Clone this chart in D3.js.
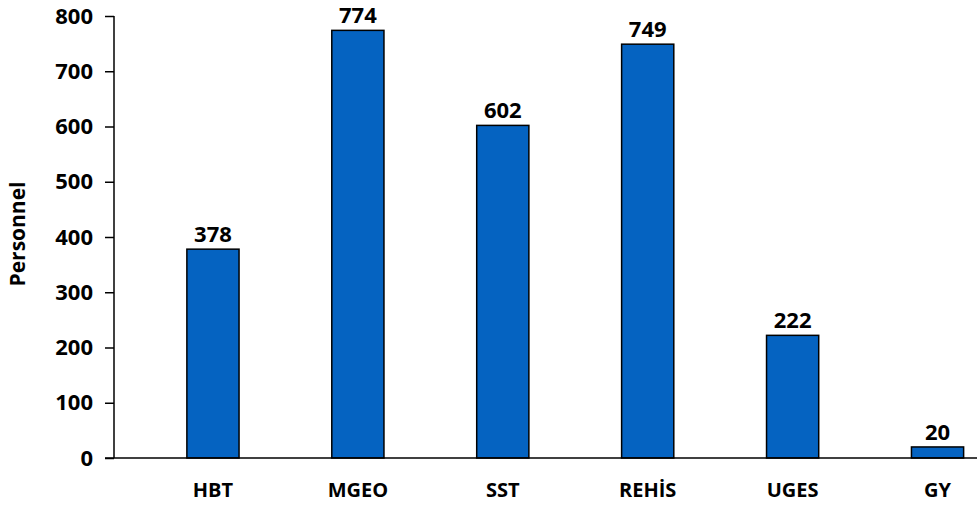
<!DOCTYPE html>
<html>
<head>
<meta charset="utf-8">
<script src="https://cdn.jsdelivr.net/npm/d3@7"></script>
<style>
body { margin: 0; background: #fff; }
text { font-family: "Open Sans", sans-serif; font-weight: bold; fill: #000; }
</style>
</head>
<body>
<script>
(function(){

//chart data
var categories = ["HBT", "MGEO", "SST", "REHİS", "UGES", "GY"];
var personnel = [378, 774, 602, 749, 222, 20];
var yTicks = [0, 100, 200, 300, 400, 500, 600, 700, 800];

window.onload = drawChart();

function drawChart(){
    var width = 977,
        height = 506;

    var svg = d3.select("body")
        .append("svg")
        .attr("width", width)
        .attr("height", height);

    //y scale, 0 at baseline
    var y = d3.scaleLinear()
        .domain([0, 800])
        .range([458, 16]);

    //x bands run past right edge (chart is cropped)
    var x = d3.scaleBand()
        .domain(categories)
        .range([140.5, 1010])
        .paddingInner(0.64)
        .paddingOuter(0.32);

    //y axis
    var yAxis = svg.append("g")
        .attr("transform", "translate(114,0)")
        .call(d3.axisLeft(y).tickValues(yTicks).tickSize(9).tickPadding(12));
    yAxis.select(".domain").attr("d", "M0," + y(800) + "V" + y(0)).attr("stroke-width", 1.5);
    yAxis.selectAll(".tick line").attr("stroke-width", 1.5);
    yAxis.selectAll(".tick text").style("font-size", "22px");

    //bars
    svg.selectAll(".bar")
        .data(personnel)
        .enter()
        .append("rect")
        .attr("class", "bar")
        .attr("x", function(d, i){ return x(categories[i]); })
        .attr("y", function(d){ return y(d); })
        .attr("width", x.bandwidth())
        .attr("height", function(d){ return y(0) - y(d); })
        .attr("fill", "#0563C1")
        .attr("stroke", "#000")
        .attr("stroke-width", 1.5);

    //x axis baseline
    svg.append("line")
        .attr("x1", 105)
        .attr("x2", width)
        .attr("y1", y(0))
        .attr("y2", y(0))
        .attr("stroke", "#000")
        .attr("stroke-width", 1.5);

    //value labels
    svg.selectAll(".val")
        .data(personnel)
        .enter()
        .append("text")
        .attr("class", "val")
        .attr("x", function(d, i){ return x(categories[i]) + x.bandwidth() / 2; })
        .attr("y", function(d){ return y(d) - 7; })
        .attr("text-anchor", "middle")
        .style("font-size", "22px")
        .text(function(d){ return d; });

    //category labels
    svg.selectAll(".cat")
        .data(categories)
        .enter()
        .append("text")
        .attr("class", "cat")
        .attr("x", function(d){ return x(d) + x.bandwidth() / 2; })
        .attr("y", 497)
        .attr("text-anchor", "middle")
        .style("font-size", "20px")
        .text(function(d){ return d; });

    //y title
    svg.append("text")
        .attr("transform", "translate(25,234) rotate(-90)")
        .attr("text-anchor", "middle")
        .style("font-size", "21px")
        .text("Personnel");
};

})();
</script>
</body>
</html>
